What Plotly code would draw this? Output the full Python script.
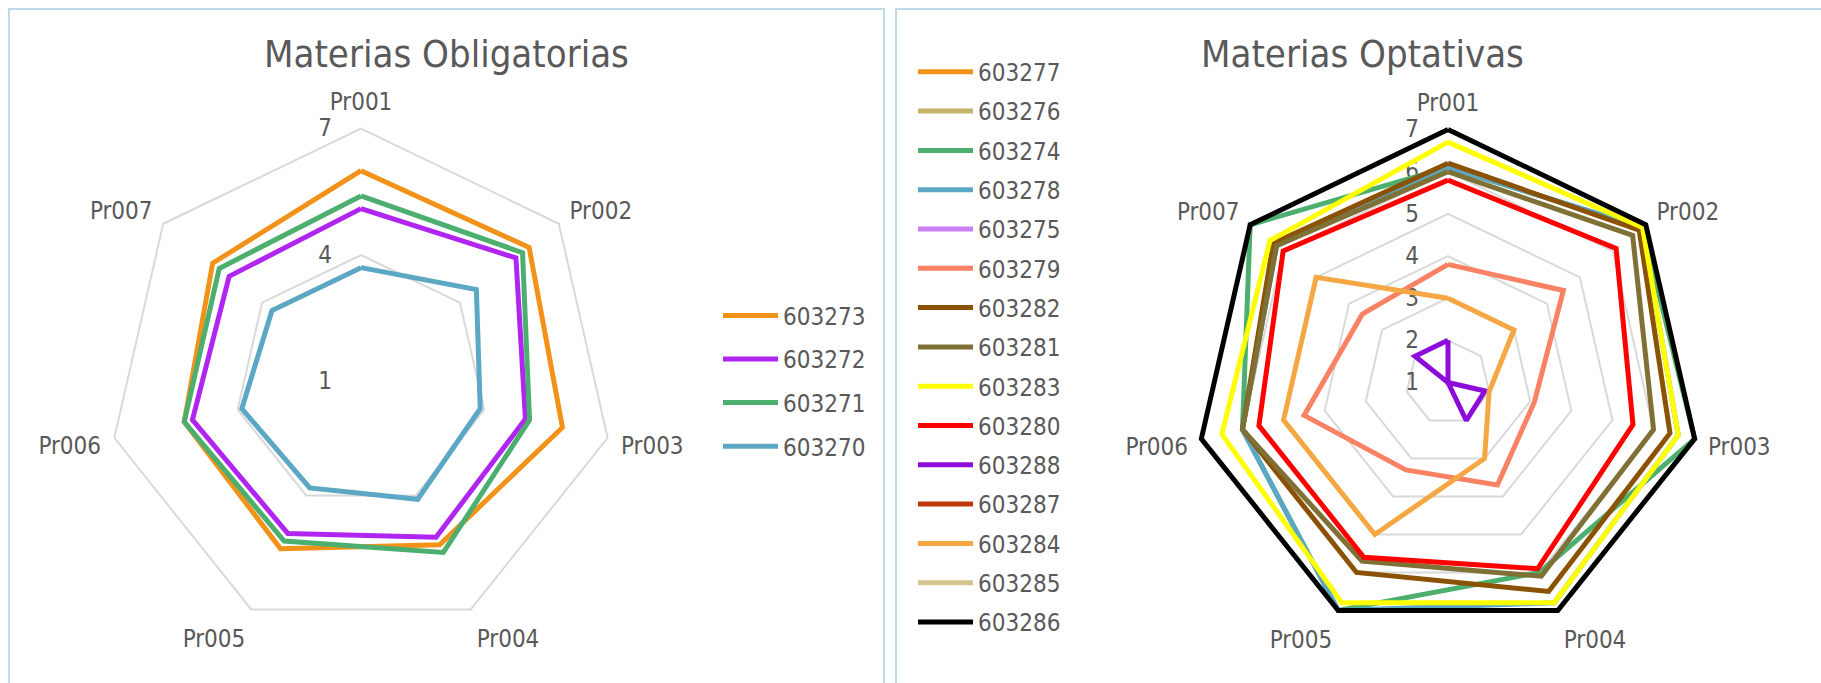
import plotly.graph_objects as go

categories = ["Pr001", "Pr002", "Pr003", "Pr004", "Pr005", "Pr006", "Pr007"]

# Materias Obligatorias
left_names = ["603273", "603272", "603271", "603270"]
s603273 = [6.0, 6.1, 5.9, 5.3, 5.4, 5.3, 5.5]
s603272 = [5.1, 5.7, 5.0, 5.1, 5.0, 5.1, 5.0]
s603271 = [5.4, 5.9, 5.1, 5.5, 5.2, 5.3, 5.3]
s603270 = [3.7, 4.5, 3.9, 4.1, 3.8, 3.9, 3.7]
left_values = [s603273, s603272, s603271, s603270]
left_colors = ["#F29219", "#B026F0", "#4CAF70", "#5BA7C4"]
left_ticks = [1, 4, 7]

# Materias Optativas
right_names = ["603277", "603276", "603274", "603278", "603275", "603279", "603282",
               "603281", "603283", "603280", "603288", "603287", "603284", "603285", "603286"]
o603277 = [None] * 7
o603276 = [None] * 7
o603274 = [6.1, 6.9, 7.0, 6.0, 7.0, 6.0, 7.0]
o603278 = [6.1, 6.9, 6.6, 6.8, 7.0, 6.0, 6.2]
o603275 = [None] * 7
o603279 = [3.8, 4.5, 3.1, 3.7, 3.3, 4.5, 3.6]
o603282 = [6.2, 6.8, 6.4, 6.5, 6.0, 6.0, 6.3]
o603281 = [6.0, 6.6, 6.0, 6.1, 5.7, 6.0, 6.2]
o603283 = [6.7, 6.9, 6.6, 6.8, 6.8, 6.5, 6.4]
o603280 = [5.8, 6.1, 5.5, 5.9, 5.6, 5.6, 6.0]
o603288 = [2.0, 1.0, 1.9, 2.0, 1.0, 1.0, 2.0]
o603287 = [None] * 7
o603284 = [3.0, 3.0, 2.0, 3.0, 5.0, 5.0, 5.0]
o603285 = [None] * 7
o603286 = [7.0, 7.0, 7.0, 7.0, 7.0, 7.0, 7.0]
right_values = [o603277, o603276, o603274, o603278, o603275, o603279, o603282,
                o603281, o603283, o603280, o603288, o603287, o603284, o603285, o603286]
right_colors = ["#F29219", "#C4B46A", "#4CAF70", "#5BA7C4", "#CC80F5", "#FA8264", "#8B5203",
                "#7F7035", "#FFFF00", "#FF0000", "#8E0CDA", "#C0370C", "#F5A743", "#D4C58E", "#000000"]
right_ticks = [1, 2, 3, 4, 5, 6, 7]

W, H = 1821, 683
FONT = "DejaVu Sans Condensed, DejaVu Sans, sans-serif"
TXT = "#595959"
GRID = "#D9D9D9"
RMIN, RMAX, RTOP = 1, 7, 7.15   # axis runs a little past 7 so the outer lines are not clipped

fig = go.Figure()

def closed(vals):
    return list(vals) + [vals[0]]

theta_closed = closed(categories)

for name, vals, col in zip(left_names, left_values, left_colors):
    fig.add_trace(go.Scatterpolar(
        r=closed(vals), theta=theta_closed, mode="lines", name=name,
        line=dict(color=col, width=5), subplot="polar", legend="legend2",
        legendgroup="L" + name, cliponaxis=False, hoverinfo="name+r+theta"))

for name, vals, col in zip(right_names, right_values, right_colors):
    fig.add_trace(go.Scatterpolar(
        r=closed(vals), theta=theta_closed, mode="lines", name=name,
        line=dict(color=col, width=5), subplot="polar2", legend="legend",
        legendgroup="R" + name, cliponaxis=False, hoverinfo="name+r+theta"))

def polar_cfg(cx, cy, R7, ticks):
    R = R7 * (RTOP - RMIN) / (RMAX - RMIN)
    return dict(
        domain=dict(x=[(cx - R) / W, (cx + R) / W], y=[(H - cy - R) / H, (H - cy + R) / H]),
        gridshape="linear",
        bgcolor="rgba(0,0,0,0)",
        radialaxis=dict(range=[RMIN, RTOP], tickvals=ticks, ticktext=[str(t) for t in ticks],
                        angle=90, tickangle=90, side="counterclockwise", showline=False,
                        ticks="outside", ticklen=20, tickcolor="rgba(0,0,0,0)",
                        showgrid=True, gridcolor=GRID, gridwidth=1.5, layer="below traces",
                        tickfont=dict(family=FONT, size=24, color=TXT)),
        angularaxis=dict(categoryorder="array", categoryarray=categories,
                         direction="clockwise", rotation=90, showgrid=False,
                         showline=False, layer="below traces",
                         ticks="outside", ticklen=2, tickcolor="rgba(0,0,0,0)",
                         tickfont=dict(family=FONT, size=24, color=TXT)),
    )

fig.update_layout(
    width=W, height=H,
    margin=dict(l=0, r=0, t=0, b=0),
    paper_bgcolor="white", plot_bgcolor="white",
    polar=polar_cfg(361, 381.5, 253, left_ticks),
    polar2=polar_cfg(1448, 382.5, 253, right_ticks),
    legend=dict(x=913 / W, y=1 - 49.7 / H, xanchor="left", yanchor="top",
                font=dict(family=FONT, size=24, color=TXT), tracegroupgap=5.1,
                itemwidth=55, bgcolor="rgba(0,0,0,0)"),
    legend2=dict(x=718 / W, y=1 - 293.3 / H, xanchor="left", yanchor="top",
                 font=dict(family=FONT, size=24, color=TXT), tracegroupgap=9.4,
                 itemwidth=55, bgcolor="rgba(0,0,0,0)"),
    showlegend=True,
    shapes=[
        dict(type="rect", xref="paper", yref="paper", x0=9 / W, x1=884 / W,
             y0=-0.2, y1=1 - 9 / H, line=dict(color="#BDDCE8", width=2)),
        dict(type="rect", xref="paper", yref="paper", x0=896 / W, x1=1.02,
             y0=-0.2, y1=1 - 9 / H, line=dict(color="#BDDCE8", width=2)),
    ],
    annotations=[
        dict(text="Materias Obligatorias", x=446.5 / W, y=1 - 54 / H, xref="paper", yref="paper",
             xanchor="center", yanchor="middle", showarrow=False,
             font=dict(family=FONT, size=38, color=TXT)),
        dict(text="Materias Optativas", x=1362 / W, y=1 - 54 / H, xref="paper", yref="paper",
             xanchor="center", yanchor="middle", showarrow=False,
             font=dict(family=FONT, size=38, color=TXT)),
    ],
)

fig.write_html("out.html", config={"displayModeBar": False},
               post_script="document.body.style.margin='0px';")
